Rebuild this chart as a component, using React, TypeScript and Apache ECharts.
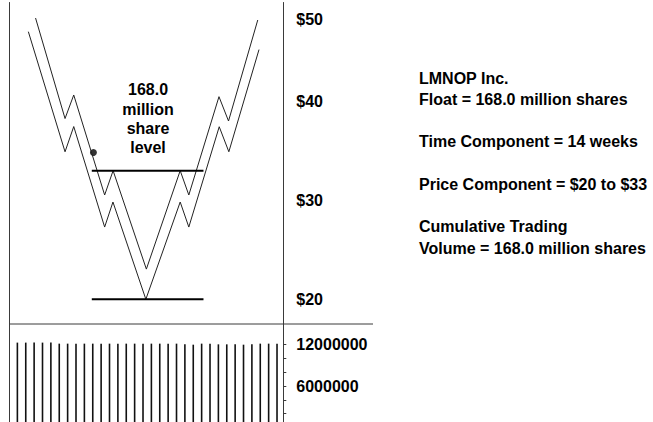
import React, { useEffect, useRef } from "react";
import * as echarts from "echarts";

// Price path: upper and lower bands (x = bar index units, y = price $)
const upperX = [2.17, 5.69, 6.73, 10.42, 11.43, 15.4, 19.44, 20.47, 24.07, 25.21, 28.7];
const upperY = [48.43, 38.27, 40.65, 30.54, 33.0, 23.05, 33.0, 30.54, 40.48, 38.02, 48.23];
const lowerX = [1.31, 5.69, 6.73, 10.42, 11.41, 15.34, 19.44, 20.47, 24.1, 25.25, 28.85];
const lowerY = [47.05, 34.91, 37.46, 27.3, 29.83, 20.0, 29.83, 27.3, 37.44, 34.91, 45.24];

// Horizontal levels of the price component ($20 to $33)
const levelStartX = 8.885;
const levelEndX = 22.22;
const topLevel = 33;
const bottomLevel = 20;

// Marker dot
const dotX = 9.08;
const dotY = 34.83;

// Volume bars
const volumes = [
  12300000, 12300000, 12300000, 12300000, 12300000, 12150000, 12150000, 12150000,
  12150000, 12150000, 12150000, 12150000, 12150000, 12150000, 12150000, 12150000,
  12150000, 12150000, 12150000, 12150000, 12050000, 12000000, 12150000, 12150000,
  12050000, 12050000, 12050000, 12000000, 12050000, 12150000, 12150000, 12150000,
];

const priceTicks = [20, 30, 40, 50];
const volumeLabelTicks = [6000000, 12000000];
const volumeMinorTicks = [0, 2000000, 4000000, 6000000, 8000000, 10000000, 12000000];

const annotation = ["168.0", "million", "share", "level"];
const infoLines = [
  "LMNOP Inc.",
  "Float = 168.0 million shares",
  "",
  "Time Component = 14 weeks",
  "",
  "Price Component = $20 to $33",
  "",
  "Cumulative Trading",
  "Volume = 168.0 million shares",
];

const FONT = '"Liberation Sans", Arial, Helvetica, sans-serif';

export default function App() {
  const ref = useRef<HTMLDivElement>(null);
  useEffect(() => {
    document.body.style.margin = "0";
    if (!ref.current) return;
    const chart = echarts.init(ref.current, null, { renderer: "svg" });
    const axisColor = "#3a3a3a";
    const labelStyle = {
      color: "#000",
      fontFamily: FONT,
      fontWeight: "bold" as const,
      fontSize: 16,
    };
    chart.setOption({
      animation: false,
      backgroundColor: "#fff",
      grid: [
        { left: 9, top: 2.5, width: 274.3, height: 321.5, containLabel: false, outerBoundsMode: "none" },
        { left: 9, top: 324, width: 274.3, height: 103.4, containLabel: false, outerBoundsMode: "none" },
      ],
      xAxis: [
        { type: "value", gridIndex: 0, min: -1, max: 31.75, show: false },
        { type: "value", gridIndex: 1, min: -1, max: 31.75, show: false },
      ],
      yAxis: [
        {
          type: "value",
          gridIndex: 0,
          position: "right",
          min: 17.5,
          max: 50,
          splitLine: { show: false },
          axisTick: { show: false },
          axisLine: { show: true, onZero: false, lineStyle: { color: axisColor, width: 1 } },
          axisLabel: {
            ...labelStyle,
            customValues: priceTicks,
            margin: 13,
            lineHeight: 17,
            padding: [0, 0, 6, 0],
            formatter: (v: number) => (v === 50 ? "\n\n$" + v : "$" + v),
          },
        },
        {
          type: "value",
          gridIndex: 0,
          position: "left",
          min: 17.5,
          max: 50,
          splitLine: { show: false },
          axisTick: { show: false },
          axisLabel: { show: false },
          axisLine: { show: true, onZero: false, lineStyle: { color: axisColor, width: 1 } },
        },
        {
          type: "value",
          gridIndex: 1,
          position: "right",
          min: 0,
          max: 15000000,
          splitLine: { show: false },
          axisLine: { show: true, onZero: false, lineStyle: { color: axisColor, width: 1 } },
          axisTick: {
            show: true,
            customValues: volumeMinorTicks,
            length: 3,
            lineStyle: { color: axisColor },
          },
          axisLabel: {
            ...labelStyle,
            customValues: volumeLabelTicks,
            margin: 13,
            formatter: (v: number) => String(v),
          },
        },
        {
          type: "value",
          gridIndex: 1,
          position: "left",
          min: 0,
          max: 15000000,
          splitLine: { show: false },
          axisTick: { show: false },
          axisLabel: { show: false },
          axisLine: { show: true, onZero: false, lineStyle: { color: axisColor, width: 1 } },
        },
      ],
      graphic: [
        {
          type: "line",
          shape: { x1: 9, y1: 324, x2: 373, y2: 324 },
          style: { stroke: axisColor, lineWidth: 1 },
        },
        {
          type: "text",
          x: 148,
          y: 118.7,
          style: {
            text: annotation.join("\n"),
            font: `bold 16px ${FONT}`,
            lineHeight: 19.3,
            align: "center",
            verticalAlign: "middle",
            fill: "#000",
          },
        },
        {
          type: "text",
          x: 419,
          y: 67.4,
          style: {
            text: infoLines.join("\n"),
            font: `bold 16px ${FONT}`,
            lineHeight: 21.25,
            align: "left",
            verticalAlign: "top",
            fill: "#000",
          },
        },
      ],
      series: [
        {
          type: "line",
          xAxisIndex: 0,
          yAxisIndex: 0,
          data: upperX.map((x, i) => [x, upperY[i]]),
          symbol: "none",
          lineStyle: { color: "#222", width: 1 },
        },
        {
          type: "line",
          xAxisIndex: 0,
          yAxisIndex: 0,
          data: lowerX.map((x, i) => [x, lowerY[i]]),
          symbol: "none",
          lineStyle: { color: "#222", width: 1 },
        },
        {
          type: "line",
          xAxisIndex: 0,
          yAxisIndex: 0,
          data: [
            [levelStartX, topLevel],
            [levelEndX, topLevel],
          ],
          symbol: "none",
          lineStyle: { color: "#000", width: 2 },
        },
        {
          type: "line",
          xAxisIndex: 0,
          yAxisIndex: 0,
          data: [
            [levelStartX, bottomLevel],
            [levelEndX, bottomLevel],
          ],
          symbol: "none",
          lineStyle: { color: "#000", width: 2 },
        },
        {
          type: "scatter",
          xAxisIndex: 0,
          yAxisIndex: 0,
          data: [[dotX, dotY]],
          symbolSize: 7,
          itemStyle: { color: "#000" },
        },
        {
          type: "bar",
          xAxisIndex: 1,
          yAxisIndex: 2,
          data: volumes.map((v, i) => [i, v]),
          barWidth: 1.6,
          itemStyle: { color: "#111" },
        },
      ],
    });
    return () => chart.dispose();
  }, []);
  return <div ref={ref} style={{ width: 653, height: 422 }} />;
}
